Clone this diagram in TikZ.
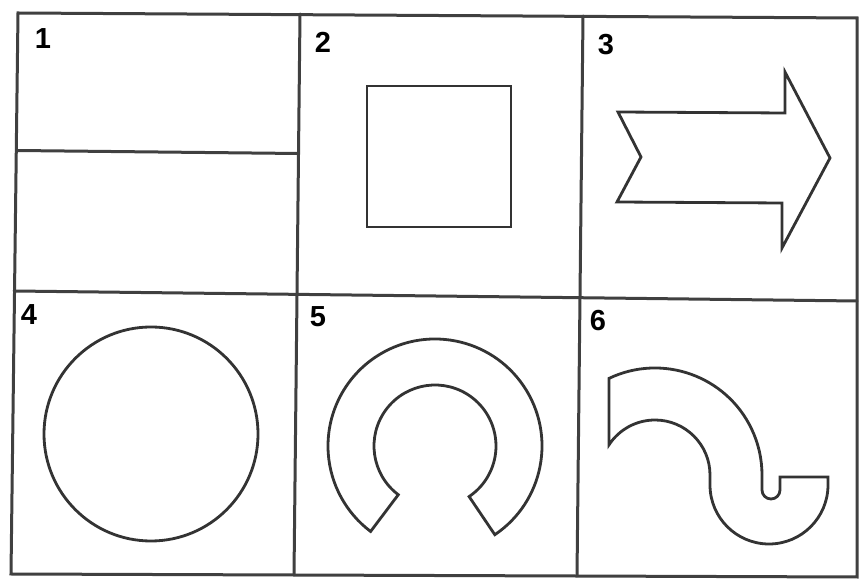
\documentclass[tikz,border=0pt]{standalone}
\usepackage{fontspec}
\setmainfont{Liberation Sans}
\usetikzlibrary{calc}
\begin{document}
\begin{tikzpicture}[x=1pt,y=1pt,
  gridline/.style={draw=black!75,line width=3pt,line cap=round},
  shapeline/.style={draw=black!80,line width=2.8pt,line join=miter},
  numlabel/.style={font=\fontsize{29}{29}\selectfont\bfseries,text=black,inner sep=0pt}]
\useasboundingbox (0,0) rectangle (860,581);
\fill[white] (0,0) rectangle (860,581);
% grid corners
\coordinate (tl) at (18,568);
\coordinate (tr) at (857,563);
\coordinate (br) at (857,4);
\coordinate (bl) at (11,7);
\coordinate (ml) at (14,290);
\coordinate (mr) at (857,280);
\coordinate (d1t) at (300,567);
\coordinate (d1b) at (294,6);
\coordinate (d2t) at (583,565);
\coordinate (d2b) at (577,5);
\coordinate (p1l) at (17,430.5);
\coordinate (p1r) at (298,427.5);
\draw[gridline] (tl) -- (tr) -- (br) -- (bl) -- cycle;
\draw[gridline] (ml) -- (mr);
\draw[gridline] (d1t) -- (d1b);
\draw[gridline] (d2t) -- (d2b);
\draw[gridline] (p1l) -- (p1r);
% labels
\node[numlabel] (l1) at (43,542) {1};
\node[numlabel] (l2) at (323,539) {2};
\node[numlabel] (l3) at (606,536) {3};
\node[numlabel] (l4) at (29,266) {4};
\node[numlabel] (l5) at (318,264) {5};
\node[numlabel] (l6) at (598,260) {6};
% 2: square
\draw[shapeline] (367,495) rectangle (511,354);
% 3: notched arrow
\draw[shapeline] (618,469) -- (641,424) -- (617,379) -- (782,378) -- (782,333)
  -- (830,423) -- (785,509) -- (785,468) -- cycle;
% 4: circle
\draw[shapeline] (151,147) circle[radius=107];
% 5: horseshoe
\coordinate (hc) at (435,135);
\draw[shapeline] ($(hc)+(-56:107)$) arc[start angle=-56,end angle=233,radius=107]
  -- ($(hc)+(233:61)$) arc[start angle=233,end angle=-56,radius=61] -- cycle;
% 6: S-shape
\coordinate (sc) at (655,106);
\draw[shapeline] ($(sc)+(115.46:107)$) arc[start angle=115.46,end angle=0,radius=107]
  -- (762,91) arc[start angle=180,end angle=360,radius=9]
  -- (780,104) -- (828,104) -- (828,96)
  arc[start angle=0,end angle=-180,radius=59]
  -- (710,106) arc[start angle=0,end angle=146.77,radius=55] -- cycle;
\end{tikzpicture}
\end{document}
